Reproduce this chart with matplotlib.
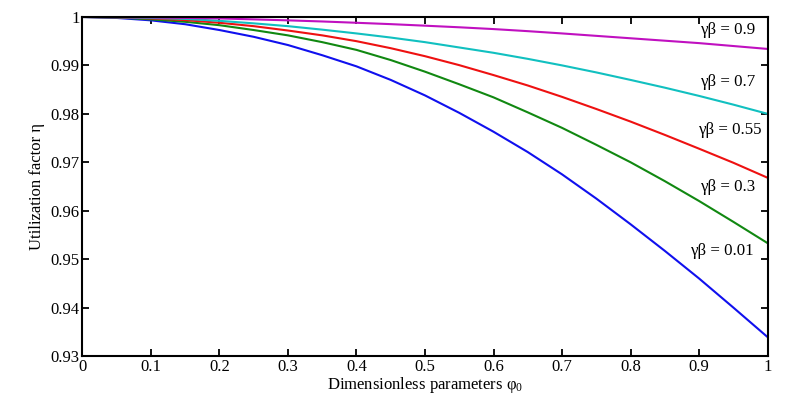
import matplotlib
matplotlib.use("Agg")
import matplotlib.pyplot as plt

plt.rcParams['font.family'] = ['Liberation Serif', 'DejaVu Serif']
plt.rcParams['mathtext.fontset'] = 'custom'
plt.rcParams['mathtext.rm'] = 'Liberation Serif'
plt.rcParams['mathtext.it'] = 'Liberation Serif:italic'

phi = [0, 0.05, 0.1, 0.15, 0.2, 0.25, 0.3, 0.35, 0.4, 0.45, 0.5,
       0.55, 0.6, 0.65, 0.7, 0.75, 0.8, 0.85, 0.9, 0.95, 1.0]
eta_001 = [1, 0.9998, 0.9993, 0.9985, 0.9973, 0.9959, 0.9942, 0.9921, 0.9898, 0.9870, 0.9838,
           0.9802, 0.9763, 0.9721, 0.9675, 0.9625, 0.9572, 0.9517, 0.9460, 0.9400, 0.9339]
eta_03 = [1, 0.9999, 0.9995, 0.9990, 0.9983, 0.9973, 0.9962, 0.9948, 0.9932, 0.9911, 0.9887,
          0.9861, 0.9834, 0.9803, 0.9771, 0.9736, 0.9700, 0.9661, 0.9620, 0.9577, 0.9533]
eta_055 = [1, 0.99993, 0.9997, 0.99935, 0.9988, 0.9981, 0.9972, 0.9962, 0.9950, 0.99355, 0.9919,
           0.99005, 0.9880, 0.98585, 0.9835, 0.9810, 0.9784, 0.97565, 0.9728, 0.9699, 0.9668]
eta_07 = [1, 0.99995, 0.9998, 0.9996, 0.9992, 0.99868, 0.9981, 0.99738, 0.9966, 0.99575, 0.9948,
          0.9937, 0.9926, 0.99135, 0.9900, 0.98855, 0.9870, 0.9854, 0.9837, 0.9819, 0.9800]
eta_09 = [1, 0.99998, 0.9999, 0.9998, 0.9997, 0.9995, 0.9993, 0.99907, 0.9988, 0.99852, 0.9982,
          0.99787, 0.9975, 0.99707, 0.9966, 0.9961, 0.9956, 0.9951, 0.9946, 0.9940, 0.9934]

series_labels = ['γβ = 0.01', 'γβ = 0.3', 'γβ = 0.55', 'γβ = 0.7', 'γβ = 0.9']
colors = ['#1010ee', '#118811', '#ee1111', '#11c0c0', '#c010c0']
label_pos = [(0.8875, 0.9517), (0.902, 0.9649), (0.898, 0.97667), (0.902, 0.98658), (0.902, 0.99732)]

x_ticks = [0, 0.1, 0.2, 0.3, 0.4, 0.5, 0.6, 0.7, 0.8, 0.9, 1]
x_ticklabels = ['0', '0.1', '0.2', '0.3', '0.4', '0.5', '0.6', '0.7', '0.8', '0.9', '1']
y_ticks = [0.93, 0.94, 0.95, 0.96, 0.97, 0.98, 0.99, 1.0]
y_ticklabels = ['0.93', '0.94', '0.95', '0.96', '0.97', '0.98', '0.99', '1']

fig = plt.figure(figsize=(8.11, 4.04), dpi=100)
ax = fig.add_axes([0.1017, 0.119, 0.8447, 0.839])

for ys, c in zip([eta_001, eta_03, eta_055, eta_07, eta_09], colors):
    ax.plot(phi, ys, color=c, lw=1.5)

for lab, (lx, ly) in zip(series_labels, label_pos):
    ax.text(lx, ly, lab, fontsize=12.2, ha='left', va='center', color='black')

ax.set_xlim(0, 1)
ax.set_ylim(0.93, 1.0)
ax.set_xticks(x_ticks)
ax.set_xticklabels(x_ticklabels)
ax.set_yticks(y_ticks)
ax.set_yticklabels(y_ticklabels)
ax.tick_params(direction='in', length=5, width=1.3, top=True, right=True,
               labelsize=12, pad=2)
for s in ax.spines.values():
    s.set_linewidth(1.5)

ax.set_xlabel('Dimensionless parameters φ$_0$', fontsize=12, labelpad=0)
ax.set_ylabel('Utilization factor η', fontsize=12, labelpad=4)

fig.savefig('out.png', dpi=100)
